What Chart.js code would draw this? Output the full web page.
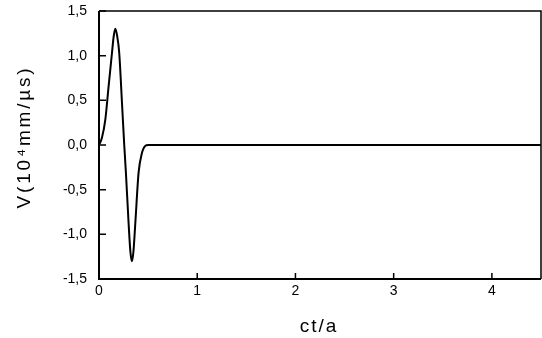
<!DOCTYPE html>
<html>
<head>
<meta charset="utf-8">
<script src="https://cdn.jsdelivr.net/npm/chart.js@4/dist/chart.umd.min.js"></script>
<style>
  html, body { margin: 0; padding: 0; background: #fff; }
  #wrap { width: 542px; height: 338px; }
</style>
</head>
<body>
<div id="wrap"><canvas id="grafico"></canvas></div>
<script>
// Pulso de velocidad V frente a ct/a
const ctA = [0, 0.03, 0.064, 0.098, 0.132, 0.15, 0.166, 0.185, 0.206, 0.234, 0.257,
             0.274, 0.301, 0.32, 0.335, 0.35, 0.37, 0.403, 0.437, 0.47, 0.5, 4.5];
const velocidad = [0, 0.08, 0.28, 0.66, 1.03, 1.22, 1.30, 1.22, 1.03, 0.47, 0.0,
                   -0.31, -0.87, -1.20, -1.30, -1.20, -0.87, -0.31, -0.09, -0.01, 0, 0];

const ticksX = [0, 1, 2, 3, 4];
const ticksY = [-1.5, -1.0, -0.5, 0.0, 0.5, 1.0, 1.5];

const tituloX = 'ct/a';
const tituloY = 'V(10\u2074mm/\u00b5s)';

const fuente = 'Arial, "Liberation Sans", sans-serif';

// Marco y marcas hacia dentro, dibujados con las escalas del propio grafico
const marcoPlugin = {
  id: 'marco',
  afterDraw(chart) {
    const ctx = chart.ctx;
    const a = chart.chartArea;
    const sx = chart.scales.x;
    const sy = chart.scales.y;
    ctx.save();
    ctx.strokeStyle = '#000';

    // lados superior y derecho
    ctx.lineWidth = 1.5;
    ctx.beginPath();
    ctx.moveTo(a.left, a.top);
    ctx.lineTo(a.right, a.top);
    ctx.lineTo(a.right, a.bottom);
    ctx.stroke();

    // ejes izquierdo e inferior
    ctx.lineWidth = 2;
    ctx.beginPath();
    ctx.moveTo(a.left, a.top);
    ctx.lineTo(a.left, a.bottom);
    ctx.lineTo(a.right, a.bottom);
    ctx.stroke();

    ctx.lineWidth = 1.5;
    ctx.beginPath();
    ticksX.forEach(v => {
      const px = sx.getPixelForValue(v);
      ctx.moveTo(px, a.bottom);
      ctx.lineTo(px, a.bottom - 6);
    });
    ticksY.forEach(v => {
      const py = sy.getPixelForValue(v);
      ctx.moveTo(a.left, py);
      ctx.lineTo(a.left + 7, py);
    });
    ctx.stroke();

    // titulos de los ejes
    ctx.fillStyle = '#000';
    ctx.font = '19px ' + fuente;
    ctx.letterSpacing = '2px';
    ctx.textAlign = 'center';
    ctx.textBaseline = 'middle';
    ctx.fillText(tituloX, (a.left + a.right) / 2 - 1, 327);

    ctx.translate(25, 137);
    ctx.rotate(-Math.PI / 2);
    ctx.letterSpacing = '2.8px';
    ctx.fillText(tituloY, 0, 0);
    ctx.restore();
  }
};

new Chart(document.getElementById('grafico').getContext('2d'), {
  type: 'scatter',
  data: {
    datasets: [{
      data: ctA.map((x, i) => ({ x: x, y: velocidad[i] })),
      showLine: true,
      borderColor: '#000',
      borderWidth: 2,
      pointRadius: 0,
      cubicInterpolationMode: 'monotone',
      fill: false
    }]
  },
  options: {
    responsive: true,
    maintainAspectRatio: false,
    animation: false,
    layout: { padding: { top: 11, right: 1, left: 0, bottom: 0 } },
    plugins: {
      legend: { display: false },
      tooltip: { enabled: false }
    },
    scales: {
      x: {
        type: 'linear',
        min: 0,
        max: 4.5,
        grid: { display: false, drawTicks: false },
        border: { display: false },
        afterBuildTicks: s => { s.ticks = ticksX.map(v => ({ value: v })); },
        afterFit: s => { s.height = 59; s.paddingLeft = 0; s.paddingRight = 0; },
        ticks: {
          color: '#000',
          font: { family: fuente, size: 14 },
          padding: 4,
          maxRotation: 0,
          callback: v => String(v)
        }
      },
      y: {
        type: 'linear',
        min: -1.5,
        max: 1.5,
        grid: { display: false, drawTicks: false },
        border: { display: false },
        afterBuildTicks: s => { s.ticks = ticksY.map(v => ({ value: v })); },
        afterFit: s => { s.width = 99; s.paddingTop = 0; s.paddingBottom = 0; },
        ticks: {
          color: '#000',
          font: { family: fuente, size: 14 },
          padding: 12,
          callback: v => v.toFixed(1).replace('.', ',')
        }
      }
    }
  },
  plugins: [marcoPlugin]
});
</script>
</body>
</html>
